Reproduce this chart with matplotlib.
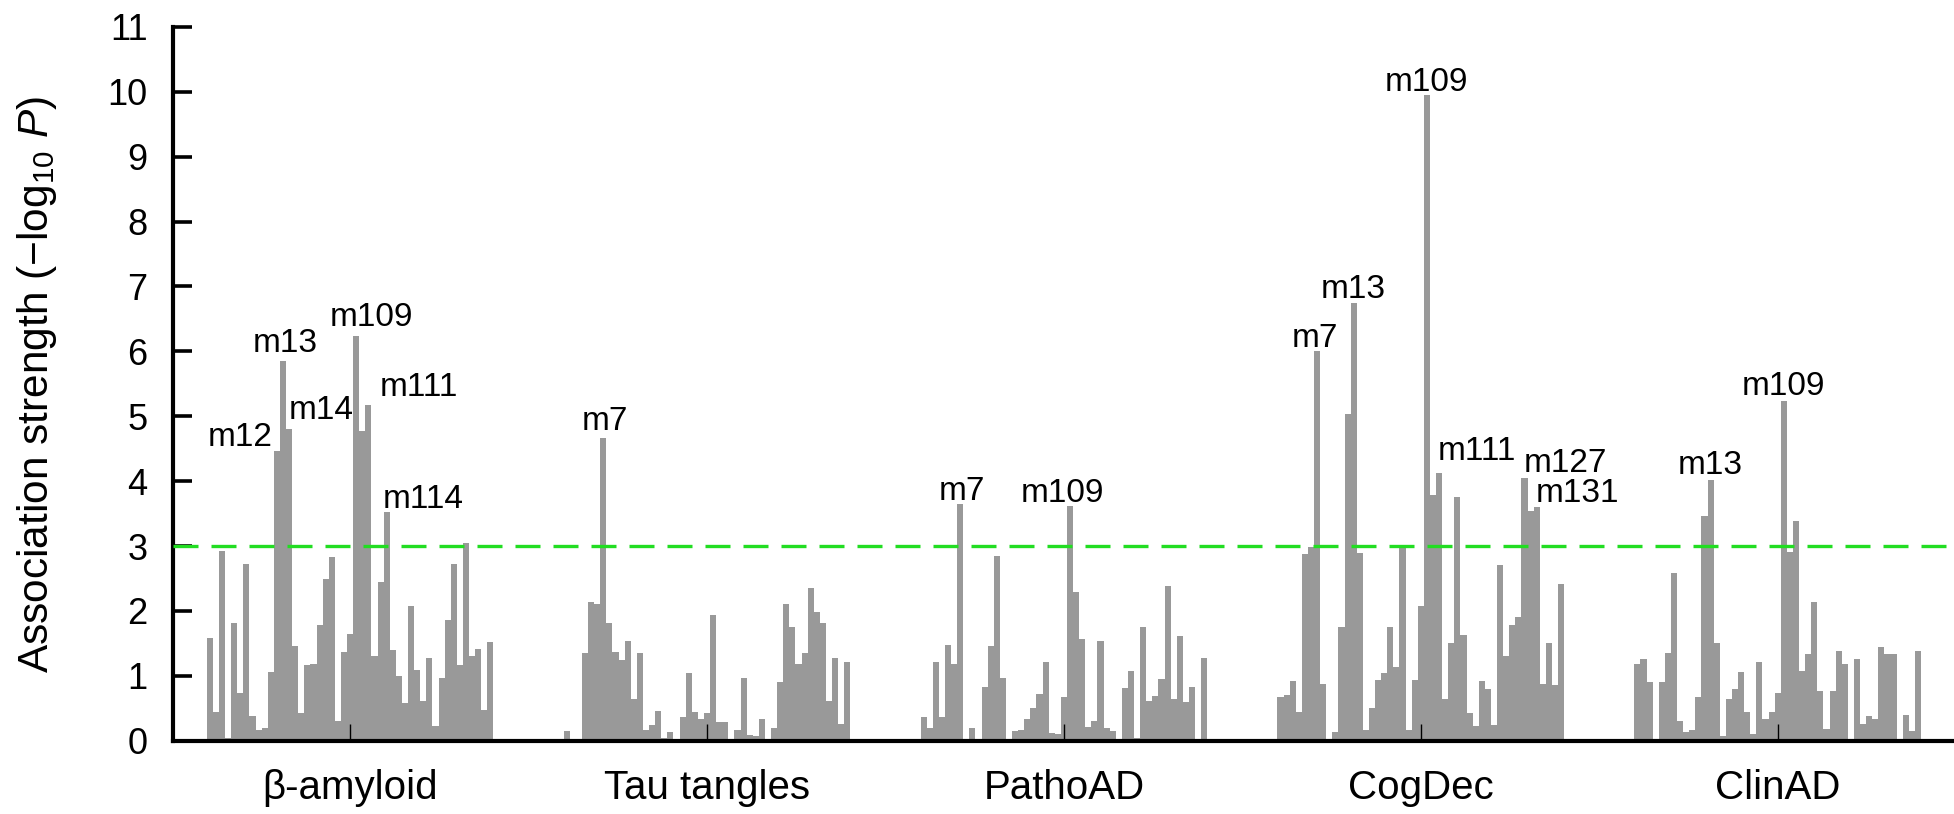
import numpy as np
import matplotlib
matplotlib.use("Agg")
import matplotlib.pyplot as plt

plt.rcParams['font.family'] = ['Liberation Sans', 'DejaVu Sans']
plt.rcParams['mathtext.fontset'] = 'custom'
plt.rcParams['mathtext.rm'] = 'Liberation Sans'
plt.rcParams['mathtext.it'] = 'Liberation Sans:italic'

traits = ['β-amyloid', 'Tau tangles', 'PathoAD', 'CogDec', 'ClinAD']

# -log10 P per module, same module order in every trait block
amyloid = [1.59, 0.45, 2.92, 0.04, 1.81, 0.74, 2.73, 0.38, 0.16, 0.20, 1.06, 4.47,
           5.85, 4.80, 1.46, 0.42, 1.17, 1.18, 1.79, 2.49, 2.83, 0.30, 1.36, 1.65,
           6.24, 4.78, 5.17, 1.30, 2.44, 3.52, 1.40, 1.00, 0.58, 2.08, 1.09, 0.61,
           1.27, 0.23, 0.96, 1.86, 2.73, 1.17, 3.05, 1.30, 1.41, 0.47, 1.52]
tau = [0.15, 0.00, 0.03, 1.35, 2.14, 2.11, 4.66, 1.82, 1.37, 1.24, 1.53, 0.65,
       1.35, 0.17, 0.25, 0.46, 0.04, 0.13, 0.00, 0.36, 1.05, 0.45, 0.33, 0.42,
       1.94, 0.29, 0.29, 0.00, 0.17, 0.96, 0.09, 0.08, 0.33, 0.00, 0.20, 0.90,
       2.10, 1.76, 1.19, 1.35, 2.35, 1.98, 1.82, 0.61, 1.27, 0.26, 1.21]
patho = [0.37, 0.20, 1.22, 0.36, 1.48, 1.19, 3.65, 0.00, 0.20, 0.02, 0.83, 1.46,
         2.84, 0.96, 0.00, 0.15, 0.17, 0.33, 0.50, 0.72, 1.22, 0.12, 0.11, 0.67,
         3.61, 2.29, 1.57, 0.21, 0.31, 1.53, 0.20, 0.15, 0.00, 0.81, 1.08, 0.04,
         1.75, 0.61, 0.69, 0.95, 2.38, 0.65, 1.62, 0.60, 0.83, 0.02, 1.28]
cogdec = [0.68, 0.70, 0.92, 0.45, 2.87, 2.99, 6.01, 0.88, 0.00, 0.13, 1.76, 5.03,
          6.74, 2.89, 0.17, 0.51, 0.94, 1.04, 1.76, 1.13, 3.00, 0.16, 0.94, 2.08,
          9.95, 3.79, 4.12, 0.65, 1.51, 3.76, 1.63, 0.43, 0.23, 0.92, 0.79, 0.25,
          2.71, 1.31, 1.79, 1.91, 4.05, 3.54, 3.60, 0.88, 1.50, 0.86, 2.42]
clinad = [1.19, 1.26, 0.91, 0.00, 0.91, 1.35, 2.59, 0.31, 0.14, 0.16, 0.67, 3.47,
          4.02, 1.51, 0.07, 0.65, 0.80, 1.06, 0.45, 0.11, 1.22, 0.33, 0.45, 0.74,
          5.24, 2.91, 3.38, 1.08, 1.34, 2.14, 0.76, 0.18, 0.76, 1.39, 1.19, 0.00,
          1.26, 0.26, 0.38, 0.33, 1.44, 1.33, 1.34, 0.00, 0.40, 0.15, 1.39]
blocks = [amyloid, tau, patho, cogdec, clinad]

threshold = 3

# (block, module index in block, name)
labels = [(0, 11, 'm12'), (0, 12, 'm13'), (0, 13, 'm14'), (0, 24, 'm109'),
          (0, 26, 'm111'), (0, 29, 'm114'),
          (1, 6, 'm7'),
          (2, 6, 'm7'), (2, 24, 'm109'),
          (3, 6, 'm7'), (3, 12, 'm13'), (3, 24, 'm109'), (3, 26, 'm111'),
          (3, 40, 'm127'), (3, 42, 'm131'),
          (4, 12, 'm13'), (4, 24, 'm109')]
# how each label sits relative to its bar: ha, dx px, dy px
placement = [('right', -4, 5), ('center', 2, 9), ('left', 0, 10), ('center', 15, 10),
             ('left', 11, 9), ('left', -4, 4),
             ('center', 2, 8),
             ('center', 2, 4), ('center', -8, 4),
             ('center', -2, 4), ('center', 0, 5), ('center', 0, 4), ('left', -1, 13),
             ('left', -1, 6), ('left', -1, 5),
             ('center', 0, 6), ('center', 0, 6)]

step = 58.5
n = len(amyloid)

fig = plt.figure(figsize=(19.54, 8.14), dpi=100)
ax = fig.add_axes([0.0884, 0.090, 0.9116, 0.877])

for g, vals in enumerate(blocks):
    x = np.arange(n) + g * step
    ax.bar(x, vals, width=1.0, color='#999999', linewidth=0)

for (g, i, name), (ha, dx, dy) in zip(labels, placement):
    ax.annotate(name, (g * step + i, blocks[g][i]), xytext=(dx, dy),
                textcoords='offset pixels', ha=ha, va='baseline', fontsize=24)

ax.axhline(threshold, color='#22dd22', lw=2.4, dashes=(7.5, 3.9), zorder=3)

ax.set_xlim(-6.07, 285.9)
ax.set_ylim(0, 11)
ax.set_yticks(range(0, 12))
ax.set_xticks([g * step + 23 for g in range(len(traits))])
ax.set_xticklabels(traits)

for s in ['top', 'right']:
    ax.spines[s].set_visible(False)
for s in ['left', 'bottom']:
    ax.spines[s].set_linewidth(3)
ax.tick_params(axis='y', direction='in', length=14, width=2.6, pad=18, labelsize=26)
ax.tick_params(axis='x', direction='in', length=12, width=1, pad=20, labelsize=29)

fig.text(0.0188, 0.528, 'Association strength (−log$_{10}$ $\\it{P}$)',
         rotation=90, ha='center', va='center', fontsize=30.5)

fig.savefig('out.png', dpi=100)
